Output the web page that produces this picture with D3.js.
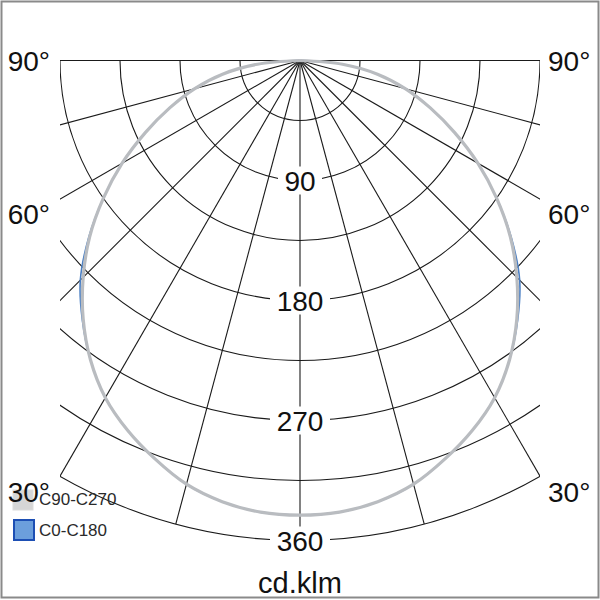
<!DOCTYPE html>
<html>
<head>
<meta charset="utf-8">
<script src="https://cdn.jsdelivr.net/npm/d3@7"></script>
<style>
  html, body { margin: 0; padding: 0; background: #fff; }
  svg { display: block; font-family: "Liberation Sans", Arial, sans-serif; }
</style>
</head>
<body>
<div class="canvas"></div>
<script>
// gamma angles, 0 = straight down
const angles = [0, 5, 10, 15, 20, 25, 30, 35, 40, 45, 50, 55, 60, 65, 70, 75, 80, 85, 90];
// intensity in cd/klm
const c90c270 = [341, 340, 336, 329, 318, 306, 292, 274, 253, 230, 206, 180, 154, 128, 104, 82, 59, 32, 0];
const c0c180 = [341, 340, 336, 329, 318, 306, 292, 274, 254, 233, 207, 180, 154, 128, 104, 82, 59, 32, 0];

const ringValues = [45, 90, 135, 180, 225, 270, 315, 360];
const ringLabels = [90, 180, 270, 360];
const spokeAngles = [-90, -75, -60, -45, -30, -15, 0, 15, 30, 45, 60, 75, 90];
const angleLabels = [90, 60, 30];
const legendNames = ["C90-C270", "C0-C180"];

const W = 600, H = 600;
const cx = 300, cy = 60.5;

const svg = d3.select(".canvas").append("svg").attr("width", W).attr("height", H);

// frame
svg.append("rect")
  .attr("x", 1.5).attr("y", 1.5)
  .attr("width", W - 3).attr("height", H - 4)
  .attr("fill", "none").attr("stroke", "#8a8a8a").attr("stroke-width", 2);

const r = d3.scaleLinear().domain([0, 360]).range([0, 480]);
const rad = (deg) => deg * Math.PI / 180;

// grid is cut off left and right at the 180 ring radius
const half = r(180);
svg.append("clipPath").attr("id", "gridClip")
  .append("rect")
  .attr("x", cx - half).attr("y", cy - 2)
  .attr("width", half * 2).attr("height", r(360) + 4);

const grid = svg.append("g").attr("clip-path", "url(#gridClip)")
  .attr("fill", "none").attr("stroke", "#1a1a1a").attr("stroke-width", 1.1);

grid.selectAll("path.ring")
  .data(ringValues)
  .enter()
  .append("path")
  .attr("class", "ring")
  .attr("d", (d) => {
    const p = d3.path();
    p.moveTo(cx + r(d), cy);
    p.arc(cx, cy, r(d), 0, Math.PI);
    return p.toString();
  });

grid.selectAll("line.spoke")
  .data(spokeAngles)
  .enter()
  .append("line")
  .attr("class", "spoke")
  .attr("x1", cx).attr("y1", cy)
  .attr("x2", (d) => cx + r(360) * Math.sin(rad(d)))
  .attr("y2", (d) => cy + r(360) * Math.cos(rad(d)));

// intensity curves, mirrored to both sides
const points = (vals) => {
  const pts = [];
  for (let i = angles.length - 1; i > 0; i--) pts.push({ a: -angles[i], v: vals[i] });
  for (let i = 0; i < angles.length; i++) pts.push({ a: angles[i], v: vals[i] });
  return pts;
};

const radial = d3.lineRadial()
  .angle((d) => Math.PI - rad(d.a))
  .radius((d) => r(d.v))
  .curve(d3.curveCatmullRom.alpha(0.5));

const curves = svg.append("g").attr("transform", `translate(${cx},${cy})`).attr("fill", "none");
curves.append("path")
  .attr("d", radial(points(c0c180)))
  .attr("stroke", "#4a7fc4").attr("stroke-width", 1.6);
curves.append("path")
  .attr("d", radial(points(c90c270)))
  .attr("stroke", "#b9bcc0").attr("stroke-width", 3.2);

// ring labels with white boxes cutting the grid
const ringG = svg.append("g").selectAll("g").data(ringLabels).enter().append("g")
  .attr("transform", (d) => `translate(${cx},${cy + r(d)})`);
ringG.append("rect")
  .attr("x", (d) => -String(d).length * 8 - 6)
  .attr("y", -14)
  .attr("width", (d) => String(d).length * 16 + 12)
  .attr("height", 28)
  .attr("fill", "#fff");
ringG.append("text")
  .attr("text-anchor", "middle")
  .attr("y", 10)
  .attr("font-size", 28)
  .attr("fill", "#111")
  .text((d) => d);

// legend
const legend = svg.append("g");
legend.append("rect")
  .attr("x", 13).attr("y", 490).attr("width", 20).attr("height", 20)
  .attr("fill", "#d6d6d6").attr("stroke", "#dcdcdc");
legend.append("rect")
  .attr("x", 14).attr("y", 520).attr("width", 20).attr("height", 20)
  .attr("fill", "#6c9fdc").attr("stroke", "#1d4fb4").attr("stroke-width", 2);
legend.selectAll("text")
  .data(legendNames)
  .enter()
  .append("text")
  .attr("x", 39)
  .attr("y", (d, i) => 505 + i * 31)
  .attr("font-size", 17)
  .attr("fill", "#2a2a2a")
  .text((d) => d);

// angle labels on both sides
const labelY = { 90: 71, 60: 224, 30: 502 };
const sides = svg.append("g").attr("font-size", 28).attr("fill", "#111");
angleLabels.forEach((a) => {
  sides.append("text").attr("x", 50).attr("y", labelY[a]).attr("text-anchor", "end").text(a + "°");
  sides.append("text").attr("x", 548).attr("y", labelY[a]).attr("text-anchor", "start").text(a + "°");
});

// unit
svg.append("text")
  .attr("x", cx).attr("y", 593)
  .attr("text-anchor", "middle")
  .attr("font-size", 29)
  .attr("fill", "#111")
  .text("cd.klm");
</script>
</body>
</html>
